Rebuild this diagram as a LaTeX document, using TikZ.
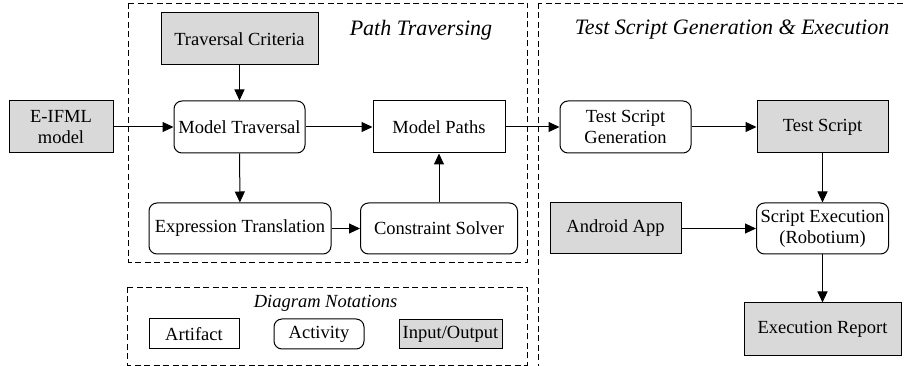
\documentclass[tikz,border=0pt]{standalone}
\usepackage{fontspec}
\setmainfont{Liberation Serif}
\usetikzlibrary{arrows.meta}
\definecolor{iofill}{HTML}{D9D9D9}
\tikzset{
  base/.style={draw=black, line width=1pt, inner sep=0pt, align=center,
    font=\fontsize{18.5}{21}\selectfont},
  artifact/.style={base},
  activity/.style={base, rounded corners=8pt},
  iobox/.style={base, fill=iofill},
  flow/.style={line width=1pt, -{Triangle[length=11pt,width=10pt]}},
  group/.style={draw=black, line width=0.8pt, dash pattern=on 6pt off 3.5pt},
  grouptitle/.style={font=\fontsize{22}{24}\itshape\selectfont, inner sep=0pt},
}
\begin{document}
\begin{tikzpicture}[x=1pt,y=-1pt]
\useasboundingbox (0,0) rectangle (906,366);
\clip (0,0) rectangle (906,366);

% dashed groups
\draw[group] (128,3) rectangle (527.5,262);
\draw[group] (538,3) rectangle (912,372);
\draw[group] (127,287) rectangle (527,365);

\node[grouptitle] (ptitle) at (421,30) {Path Traversing};
\node[grouptitle] (gtitle) at (732,30) {Test Script Generation \& Execution};

% path traversing stage
\node[iobox, minimum width=104pt, minimum height=52pt] (eifml) at (61,127) {E-IFML\\model};
\node[iobox, minimum width=157pt, minimum height=52pt] (crit) at (239.5,39) {Traversal Criteria};
\node[activity, minimum width=131pt, minimum height=52pt] (mtrav) at (239.5,127) {Model Traversal};
\node[artifact, minimum width=132pt, minimum height=52pt] (mpaths) at (439,127) {Model Paths};
\node[activity, minimum width=182pt, minimum height=51pt] (exptr) at (240,228.5) {Expression Translation};
\node[activity, minimum width=157pt, minimum height=51pt] (csolv) at (439,228.5) {Constraint Solver};

% generation and execution stage
\node[activity, minimum width=131pt, minimum height=52pt] (tsgen) at (625.5,127) {Test Script\\Generation};
\node[iobox, minimum width=131pt, minimum height=52pt] (tscript) at (822.5,127) {Test Script};
\node[iobox, minimum width=131pt, minimum height=51pt] (android) at (615.5,228.5) {Android App};
\node[activity, minimum width=132pt, minimum height=51pt] (sexec) at (822.5,228.5) {Script Execution\\(Robotium)};
\node[iobox, minimum width=157pt, minimum height=53pt] (erep) at (822.5,329.5) {Execution Report};

% legend
\node[font=\fontsize{18.5}{21}\itshape\selectfont, inner sep=0pt] (ltitle) at (325.5,303) {Diagram Notations};
\node[artifact, minimum width=90pt, minimum height=30pt] (lart) at (194,334) {Artifact};
\node[activity, minimum width=90pt, minimum height=30pt] (lact) at (319,334) {Activity};
\node[iobox, minimum width=103pt, minimum height=29pt] (lio) at (450.5,334.5) {Input/Output};

% connectors
\draw[flow] (eifml) -- (mtrav);
\draw[flow] (crit) -- (mtrav);
\draw[flow] (mtrav) -- (mpaths);
\draw[flow] (mtrav) -- (exptr);
\draw[flow] (exptr) -- (csolv);
\draw[flow] (csolv) -- (mpaths);
\draw[flow] (mpaths) -- (tsgen);
\draw[flow] (tsgen) -- (tscript);
\draw[flow] (tscript) -- (sexec);
\draw[flow] (android) -- (sexec);
\draw[flow] (sexec) -- (erep);
\end{tikzpicture}
\end{document}
